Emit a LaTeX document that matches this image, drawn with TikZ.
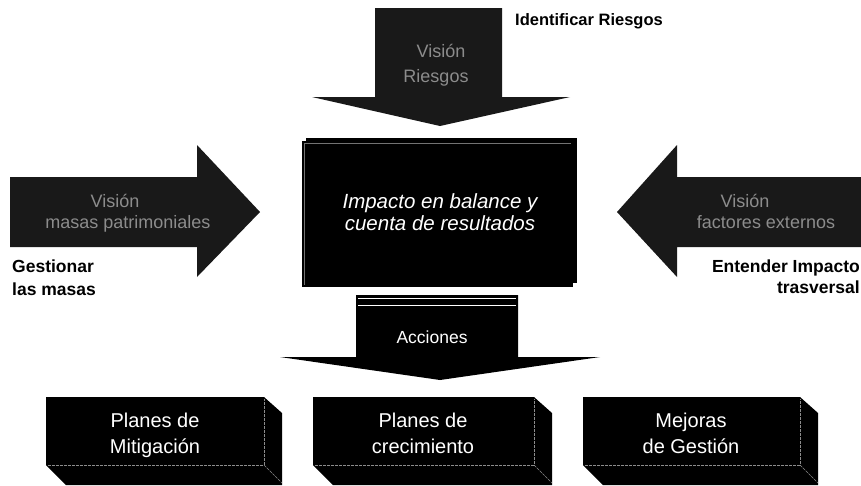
\documentclass[tikz,border=0pt]{standalone}
\usepackage{fontspec}
\setmainfont{Liberation Sans}
\begin{document}
\begin{tikzpicture}[x=1pt,y=-1pt,
  shapefill/.style={fill=black!90},
  boxfill/.style={fill=black},
  edgeline/.style={draw=black!45, line width=0.6pt, dash pattern=on 3pt off 1pt},
  arrowtext/.style={text=black!45, font=\fontsize{18}{20}\selectfont, inner sep=0},
  sidelabel/.style={font=\bfseries\fontsize{17.5}{20}\selectfont, inner sep=0},
  centertext/.style={text=white, font=\itshape\fontsize{20.5}{22}\selectfont, inner sep=0},
  boxtext/.style={text=white, font=\fontsize{20}{24}\selectfont, inner sep=0},
]
\useasboundingbox (0,0) rectangle (861,485);
\fill[white] (0,0) rectangle (861,485);
\begin{scope}
\clip (0,0) rectangle (861,485);
% top arrow
\fill[shapefill] (375,8) -- (502,8) -- (502,97) -- (570,97) -- (440,126) -- (312,97) -- (375,97) -- cycle;
% left arrow
\fill[shapefill] (10,177) -- (197,177) -- (197,145) -- (260,212) -- (197,277) -- (197,247) -- (10,247) -- cycle;
% right arrow
\fill[shapefill] (861,177) -- (677,177) -- (677,145) -- (617,212) -- (677,277) -- (677,247) -- (861,247) -- cycle;
% center box (layered)
\fill[boxfill] (306,138) rectangle (577,283);
\fill[boxfill] (302,141) rectangle (573,287);
\draw[black!55, line width=0.5pt] (304,143) -- (571,143);
\draw[black!55, line width=0.5pt] (304,143) -- (304,285);
% Acciones arrow
\fill[boxfill] (356,295) -- (518,295) -- (518,357) -- (600,357) -- (440,380) -- (280,357) -- (356,357) -- cycle;
\draw[white, line width=1pt] (358,298.5) -- (516,298.5);
\draw[white, line width=0.8pt] (358,305) -- (516,305);
% bottom boxes
\foreach \l/\r in {46/264,313/534,583/800} {
  \fill[boxfill] (\l,397) rectangle (\r,465);
  \fill[boxfill] (\r,397) -- (\r+18,413) -- (\r+18,485) -- (\l+20,485) -- (\l,465) -- (\r,465) -- cycle;
  \draw[edgeline] (\l+2,465) -- (\r,465) -- (\r,399);
  \draw[edgeline] (\r,465) -- (\r+18,483);
}
\end{scope}
% labels outside
\node[sidelabel, font=\bfseries\fontsize{16.5}{20}\selectfont, anchor=base west] (idr) at (515,25) {Identificar Riesgos};
\node[sidelabel, anchor=base west] (ges1) at (12,272) {Gestionar};
\node[sidelabel, anchor=base west] (ges2) at (12,295) {las masas};
\node[sidelabel, anchor=base east] (ent1) at (860,272) {Entender Impacto};
\node[sidelabel, anchor=base east] (ent2) at (860,293) {trasversal};
% texts on arrows
\node[arrowtext, anchor=base] (t1) at (441,57) {Visión};
\node[arrowtext, anchor=base] (t2) at (436,82) {Riesgos};
\node[arrowtext, anchor=base] (l1) at (115,207) {Visión};
\node[arrowtext, anchor=base] (l2) at (128,228) {masas patrimoniales};
\node[arrowtext, anchor=base] (r1) at (745,207) {Visión};
\node[arrowtext, anchor=base] (r2) at (766,228) {factores externos};
% center text
\node[centertext, anchor=base] (c1) at (440,208) {Impacto en balance y};
\node[centertext, anchor=base] (c2) at (440,230) {cuenta de resultados};
% Acciones
\node[text=white, font=\fontsize{17.5}{20}\selectfont, inner sep=0, anchor=base] (acc) at (432,343) {Acciones};
% box texts
\node[boxtext, anchor=base] (b1a) at (155,427) {Planes de};
\node[boxtext, anchor=base] (b1b) at (155,453) {Mitigación};
\node[boxtext, anchor=base] (b2a) at (423,427) {Planes de};
\node[boxtext, anchor=base] (b2b) at (423,453) {crecimiento};
\node[boxtext, anchor=base] (b3a) at (691,427) {Mejoras};
\node[boxtext, anchor=base] (b3b) at (691,453) {de Gestión};
\end{tikzpicture}
\end{document}
